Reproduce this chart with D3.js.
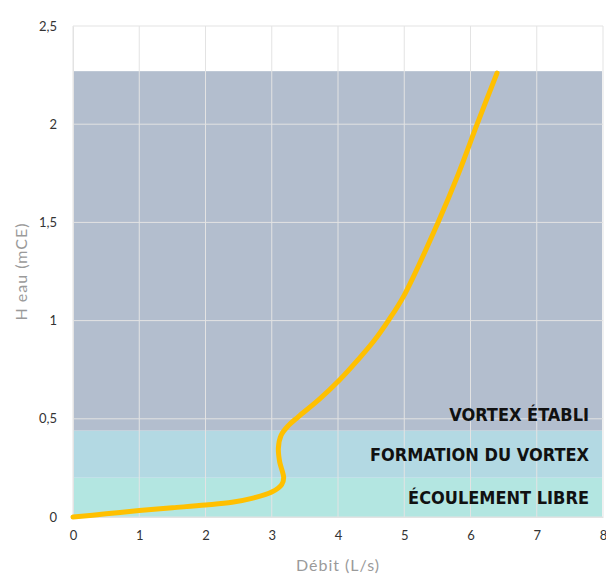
<!DOCTYPE html>
<html>
<head>
<meta charset="utf-8">
<script src="https://cdn.jsdelivr.net/npm/d3@7"></script>
<style>
  body { margin: 0; background: #fff; }
</style>
</head>
<body>
<div id="chart"></div>
<script>
// valeurs
const xTicks = [0, 1, 2, 3, 4, 5, 6, 7, 8];
const yTicks = [0, 0.5, 1, 1.5, 2, 2.5];

const zones = [
    { label: "ÉCOULEMENT LIBRE", y0: 0, y1: 0.2, color: "#b3e6e1" },
    { label: "FORMATION DU VORTEX", y0: 0.2, y1: 0.44, color: "#b3d9e3" },
    { label: "VORTEX ÉTABLI", y0: 0.44, y1: 2.27, color: "#b3bece" }
];

const debit = [0, 0.5, 1, 1.5, 2, 2.4, 2.7, 3.0, 3.15, 3.18, 3.12, 3.1, 3.14, 3.25, 3.4, 3.72, 4.03, 4.3, 4.55, 4.76, 5.0, 5.51, 5.82, 6.1, 6.4];
const hauteur = [0, 0.016, 0.033, 0.047, 0.061, 0.075, 0.095, 0.127, 0.165, 0.2, 0.28, 0.35, 0.415, 0.465, 0.51, 0.6, 0.7, 0.8, 0.9, 1.0, 1.13, 1.5, 1.75, 2.0, 2.26];

const width = 606, height = 574;
const margin = { top: 26, right: 3, bottom: 57, left: 73 };

const svg = d3.select("#chart").append("svg")
    .attr("width", width)
    .attr("height", height);

const x = d3.scaleLinear()
    .domain([0, 8])
    .range([margin.left, width - margin.right]);

const y = d3.scaleLinear()
    .domain([0, 2.5])
    .range([height - margin.bottom, margin.top]);

// bandes de fond
svg.selectAll(".zone")
    .data(zones)
    .enter().append("rect")
    .attr("class", "zone")
    .attr("x", x(0))
    .attr("y", d => y(d.y1))
    .attr("width", x(8) - x(0) - 1)
    .attr("height", d => y(d.y0) - y(d.y1))
    .attr("fill", d => d.color);

// grille
svg.append("g")
    .selectAll("line")
    .data(xTicks)
    .enter().append("line")
    .attr("x1", d => x(d)).attr("x2", d => x(d))
    .attr("y1", y(0)).attr("y2", y(2.5))
    .attr("stroke", "#e3e3e3")
    .attr("stroke-width", 1);

svg.append("g")
    .selectAll("line")
    .data(yTicks)
    .enter().append("line")
    .attr("x1", x(0)).attr("x2", x(8))
    .attr("y1", d => y(d)).attr("y2", d => y(d))
    .attr("stroke", "#e3e3e3")
    .attr("stroke-width", 1);

// libellés des zones
svg.selectAll(".zlabel")
    .data(zones)
    .enter().append("text")
    .attr("class", "zlabel")
    .attr("x", 589)
    .attr("y", d => d.label === "VORTEX ÉTABLI" ? y(0.44) - 10 : (y(d.y0) + y(d.y1)) / 2 + 7)
    .attr("text-anchor", "end")
    .style("font-family", "'DejaVu Sans Condensed', 'DejaVu Sans', sans-serif")
    .style("font-stretch", "condensed")
    .style("font-weight", "bold")
    .style("font-size", "18px")
    .style("fill", "#111")
    .text(d => d.label);

// axes
const fmt = d => String(d).replace(".", ",");

const xAxis = svg.append("g")
    .attr("transform", `translate(0,${y(0)})`)
    .call(d3.axisBottom(x).tickValues(xTicks).tickSize(0).tickPadding(14).tickFormat(fmt));

const yAxis = svg.append("g")
    .attr("transform", `translate(${x(0)},0)`)
    .call(d3.axisLeft(y).tickValues(yTicks).tickSize(0).tickPadding(16).tickFormat(fmt));

[xAxis, yAxis].forEach(a => {
    a.select(".domain").attr("stroke", "#e3e3e3");
    a.selectAll("text")
        .style("font-family", "Lato, 'Open Sans', sans-serif")
        .style("font-size", "13px")
        .style("fill", "#333");
});

// courbe
const line = d3.line()
    .x((d, i) => x(debit[i]))
    .y((d, i) => y(hauteur[i]))
    .curve(d3.curveCatmullRom.alpha(0.5));

svg.append("path")
    .datum(debit)
    .attr("d", line)
    .attr("fill", "none")
    .attr("stroke", "#ffc000")
    .attr("stroke-width", 5)
    .attr("stroke-linecap", "round");

// titres des axes
svg.append("text")
    .attr("x", (x(0) + x(8)) / 2)
    .attr("y", 571)
    .attr("text-anchor", "middle")
    .style("font-family", "Lato, 'Open Sans', sans-serif")
    .style("font-size", "16px")
    .style("letter-spacing", "1px")
    .style("fill", "#9a9a9a")
    .text("Débit (L/s)");

svg.append("text")
    .attr("transform", `translate(27,${(y(0) + y(2.5)) / 2}) rotate(-90)`)
    .attr("text-anchor", "middle")
    .style("font-family", "Lato, 'Open Sans', sans-serif")
    .style("font-size", "16px")
    .style("letter-spacing", "1px")
    .style("fill", "#9a9a9a")
    .text("H eau (mCE)");
</script>
</body>
</html>
